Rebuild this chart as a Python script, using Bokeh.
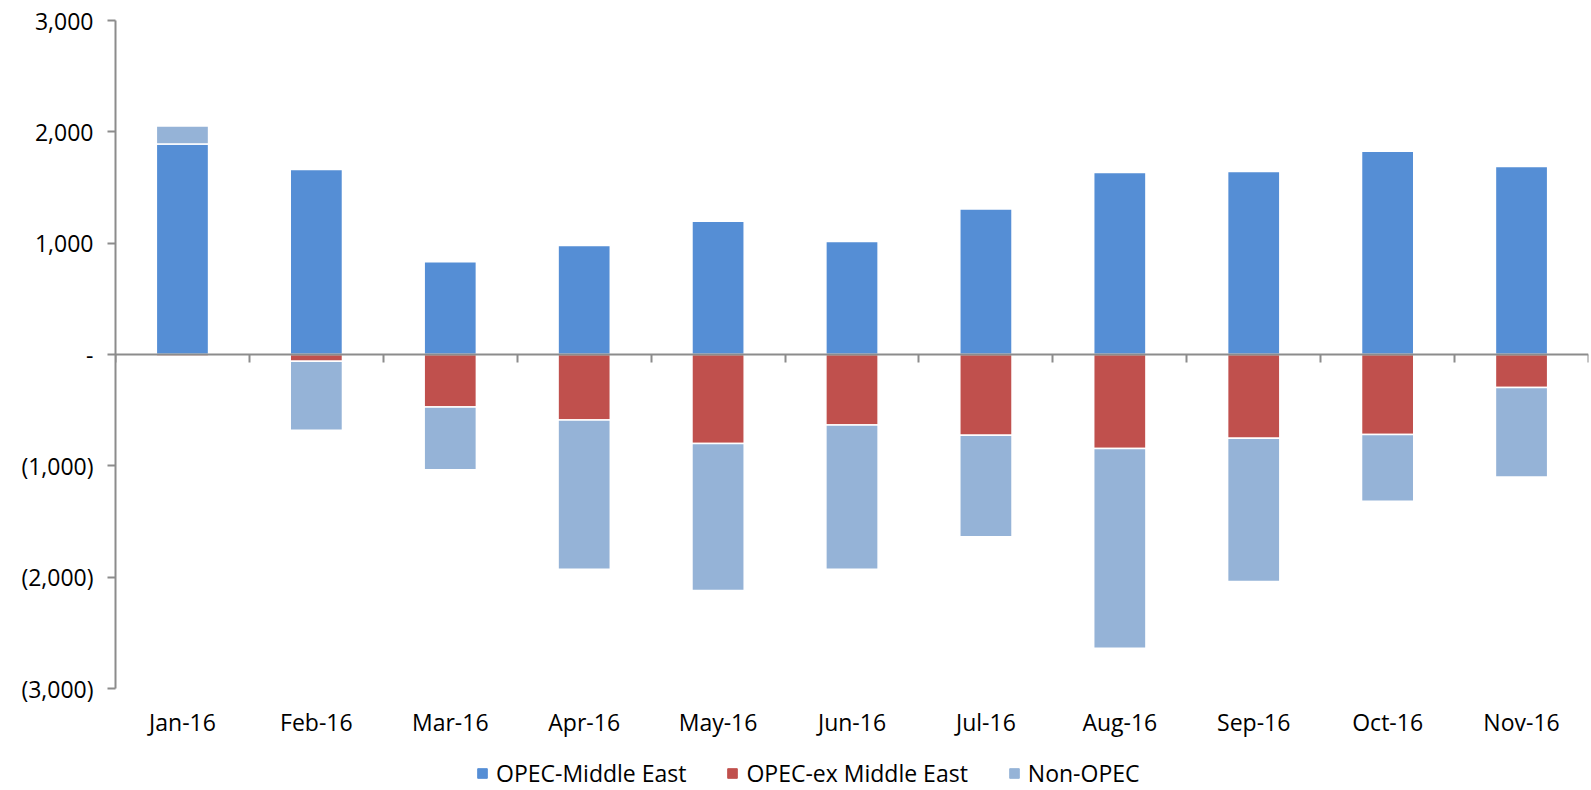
from bokeh.plotting import figure
from bokeh.layouts import column
from bokeh.models import (Range1d, LinearAxis, FixedTicker, Legend, LegendItem)
from bokeh.embed import file_html
from bokeh.resources import INLINE

months = ["Jan-16", "Feb-16", "Mar-16", "Apr-16", "May-16", "Jun-16",
          "Jul-16", "Aug-16", "Sep-16", "Oct-16", "Nov-16"]
opec_me = [1890, 1662, 833, 978, 1197, 1015, 1306, 1634, 1643, 1826, 1689]
opec_ex_me = [-15, -60, -471, -589, -799, -634, -726, -844, -753, -719, -297]
non_opec = [162, -620, -565, -1340, -1320, -1294, -911, -1795, -1285, -599, -803]

series_names = ["OPEC-Middle East", "OPEC-ex Middle East", "Non-OPEC"]
series_values = [opec_me, opec_ex_me, non_opec]
series_colors = ["#558ED5", "#C0504D", "#95B3D7"]

y_ticks = [-3000, -2000, -1000, 0, 1000, 2000, 3000]
y_tick_labels = ["(3,000)", "(2,000)", "(1,000)", "-", "1,000", "2,000", "3,000"]

FONT = "Open Sans"
FS = "23px"
AXIS_COLOR = "#8C8C8C"

p = figure(width=1591, height=755, output_backend="svg", toolbar_location=None,
           x_range=Range1d(0, len(months)), y_range=Range1d(-3000, 3000),
           x_axis_location=None, y_axis_location="left",
           min_border_left=115, min_border_right=3, min_border_top=20,
           min_border_bottom=67)
p.outline_line_color = None
p.grid.visible = False

xs = [i + 0.5 for i in range(len(months))]
pos_acc = [0.0] * len(months)
neg_acc = [0.0] * len(months)
renderers = []
for name, vals, col in zip(series_names, series_values, series_colors):
    bottoms, tops = [], []
    for i, v in enumerate(vals):
        if v >= 0:
            bottoms.append(pos_acc[i]); tops.append(pos_acc[i] + v); pos_acc[i] += v
        else:
            bottoms.append(neg_acc[i]); tops.append(neg_acc[i] + v); neg_acc[i] += v
    r = p.vbar(x=xs, bottom=bottoms, top=tops, width=0.39, fill_color=col,
               line_color="white", line_width=1.5)
    renderers.append(r)

# y axis
ya = p.yaxis[0]
ya.ticker = FixedTicker(ticks=y_ticks)
ya.major_label_overrides = {t: l for t, l in zip(y_ticks, y_tick_labels)}
ya.axis_line_color = AXIS_COLOR
ya.axis_line_width = 2
ya.major_tick_line_color = AXIS_COLOR
ya.major_tick_line_width = 2
ya.major_tick_out = 8
ya.major_tick_in = 0
ya.minor_tick_line_color = None
ya.major_label_standoff = 14
ya.major_label_text_font = FONT
ya.major_label_text_font_size = FS
ya.major_label_text_color = "#000000"

# zero-line category axis with boundary ticks
za = LinearAxis(fixed_location=0, ticker=FixedTicker(ticks=list(range(len(months) + 1))),
                axis_line_color=AXIS_COLOR, axis_line_width=2,
                major_tick_line_color=AXIS_COLOR, major_tick_line_width=2,
                major_tick_in=8, major_tick_out=0, minor_tick_line_color=None,
                major_label_text_alpha=0, major_label_text_font_size="1px",
                major_label_standoff=0)
p.add_layout(za, "above")

# month labels axis
la = LinearAxis(ticker=FixedTicker(ticks=xs),
                major_label_overrides={x: m for x, m in zip(xs, months)},
                axis_line_color=None, major_tick_line_color=None,
                major_tick_in=0, major_tick_out=0,
                minor_tick_line_color=None, major_label_standoff=17,
                major_label_text_font=FONT, major_label_text_font_size=FS,
                major_label_text_color="#000000")
p.add_layout(la, "below")

# legend strip (keys reuse the series data, hidden; only their legend swatches show)
lg = figure(width=1591, height=34, output_backend="svg", toolbar_location=None,
            x_range=Range1d(0, len(months)), y_range=Range1d(-3000, 3000),
            x_axis_location=None, y_axis_location=None,
            min_border_left=0, min_border_right=0, min_border_top=0, min_border_bottom=0)
lg.outline_line_color = None
lg.grid.visible = False
keys = []
for name, vals, col in zip(series_names, series_values, series_colors):
    keys.append(lg.vbar(x=xs, top=vals, width=0.39, fill_color=col, line_color=col,
                        visible=False))

legend = Legend(items=[LegendItem(label=n, renderers=[r]) for n, r in zip(series_names, keys)],
                orientation="horizontal", location=(361, 0),
                label_text_font=FONT, label_text_font_size=FS, label_text_color="#000000",
                glyph_width=12, glyph_height=12, label_standoff=8,
                spacing=40, padding=0, margin=0,
                border_line_color=None, background_fill_alpha=0)
lg.add_layout(legend, "center")

layout = column(p, lg, spacing=0)
open("out.html", "w").write(file_html(layout, INLINE))
